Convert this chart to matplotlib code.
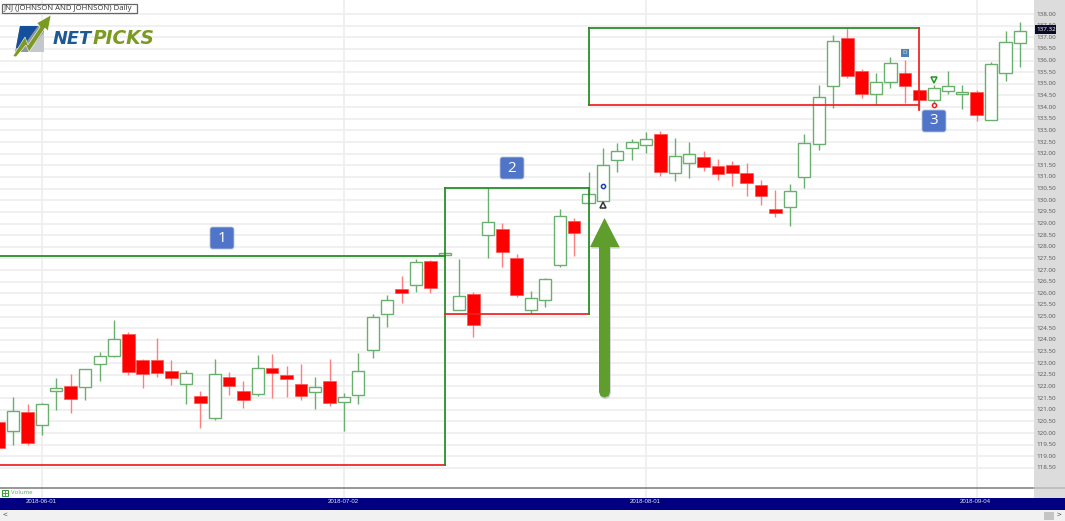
import numpy as np
import matplotlib
matplotlib.use("Agg")
import matplotlib.pyplot as plt
from matplotlib.patches import Rectangle, Polygon, FancyBboxPatch

plt.rcParams['font.family'] = ['Open Sans', 'DejaVu Sans']

W, H = 1065, 521

# candle data, first candle is cut off by the left edge
opens = [120.49, 120.10, 120.92, 120.35, 121.82, 122.03, 121.96, 122.97, 123.31, 124.24, 123.14,
         123.14, 122.68, 122.09, 121.58, 120.63, 122.39, 121.79, 121.66, 122.79, 122.48, 122.12,
         121.76, 122.22, 121.32, 121.63, 123.57, 125.11, 126.20, 126.35, 127.38, 127.66, 125.27,
         125.99, 128.51, 128.78, 127.51, 125.27, 125.70, 127.21, 129.12, 129.87, 129.95, 131.74,
         132.26, 132.36, 132.86, 131.16, 131.61, 131.86, 131.46, 131.50, 131.16, 130.67, 129.64,
         129.70, 130.99, 132.42, 134.89, 136.96, 135.54, 134.56, 135.08, 135.45, 134.75, 134.31,
         134.68, 134.55, 134.65, 133.45, 135.45, 136.74]
closes = [119.37, 120.93, 119.58, 121.23, 121.93, 121.45, 122.76, 123.30, 124.05, 122.62, 122.52,
          122.59, 122.38, 122.59, 121.28, 122.55, 122.01, 121.42, 122.81, 122.57, 122.32, 121.58,
          121.99, 121.30, 121.56, 122.68, 124.98, 125.71, 126.03, 127.35, 126.22, 127.72, 125.90,
          124.65, 129.08, 127.78, 125.92, 125.81, 126.60, 129.34, 128.58, 130.25, 131.50, 132.13,
          132.50, 132.62, 131.21, 131.91, 132.00, 131.43, 131.13, 131.16, 130.73, 130.18, 129.46,
          130.41, 132.45, 134.42, 136.85, 135.32, 134.56, 135.07, 135.91, 134.89, 134.31, 134.83,
          134.92, 134.65, 133.67, 135.84, 136.81, 137.28]
highs = [120.49, 121.56, 121.25, 121.28, 122.35, 122.52, 122.76, 123.47, 124.84, 124.33, 123.17,
         124.07, 123.14, 122.71, 121.81, 123.17, 122.63, 122.24, 123.35, 123.41, 122.88, 122.97,
         122.39, 123.17, 121.71, 123.44, 125.10, 125.92, 126.75, 127.49, 127.43, 127.72, 127.49,
         126.07, 130.51, 129.01, 127.68, 126.11, 126.65, 129.61, 129.22, 131.20, 132.24, 132.46,
         132.63, 132.93, 132.96, 132.67, 132.50, 132.13, 131.78, 131.70, 131.59, 130.87, 130.44,
         130.70, 132.86, 134.96, 137.10, 137.39, 135.64, 135.45, 136.14, 136.02, 134.75, 134.95,
         135.56, 134.96, 134.73, 135.93, 137.28, 137.66]
lows = [119.37, 119.49, 119.49, 119.92, 120.99, 120.87, 121.43, 122.24, 123.28, 122.51, 121.92,
        122.42, 122.05, 121.23, 120.23, 120.56, 121.62, 121.09, 121.60, 121.49, 121.56, 121.42,
        121.05, 121.17, 120.09, 121.23, 123.21, 124.57, 125.57, 126.07, 126.03, 127.66, 125.27,
        124.11, 127.53, 127.12, 125.84, 125.11, 125.40, 127.15, 127.60, 129.87, 129.92, 131.20,
        131.73, 132.02, 131.04, 130.84, 130.97, 131.26, 130.86, 130.62, 130.19, 129.80, 129.29,
        128.89, 130.53, 132.16, 133.98, 135.26, 134.38, 134.09, 134.81, 134.16, 133.88, 134.09,
        134.56, 133.92, 133.42, 133.45, 135.13, 135.71]
first_idx = -1

price_ticks = np.arange(118.5, 138.01, 0.5)
date_idx = [2, 23, 44, 67]
date_labels = ['2018-06-01', '2018-07-02', '2018-08-01', '2018-09-04']
last_price = 137.32

# boxes: left index, right index, top price, bottom price
box1 = (-1, 30, 127.60, 118.63)
box2 = (30, 40, 130.53, 125.11)
box3 = (40, 63, 137.40, 134.09)

GREEN = '#69b06f'
LINE_GREEN = '#1f8a1f'
LINE_RED = '#f02020'
BOX_LW = 1.25
GRID = '#eeeeee'

fig = plt.figure(figsize=(W / 100, H / 100), dpi=100, facecolor='white')

# price panel
ax = fig.add_axes([0, (H - 488) / H, 1034 / W, 488 / H])
ax.set_xlim(-0.925, 70.98)
ax.set_ylim(117.64, 138.60)
ax.set_axis_off()

for p in price_ticks:
    ax.axhline(p, color=GRID, lw=1.2, zorder=1)
for d in date_idx:
    ax.axvline(d, color=GRID, lw=1.2, zorder=1)

for k in range(len(opens)):
    i = first_idx + k
    o, c, h, l = opens[k], closes[k], highs[k], lows[k]
    top, bot = max(o, c), min(o, c)
    if c >= o:
        ax.plot([i, i], [top, h], color=GREEN, lw=1.0, zorder=3, solid_capstyle='butt')
        ax.plot([i, i], [l, bot], color=GREEN, lw=1.0, zorder=3, solid_capstyle='butt')
        ax.add_patch(Rectangle((i - 0.42, bot), 0.84, top - bot, fc='white', ec=GREEN, lw=1.0, zorder=4))
    else:
        ax.plot([i, i], [l, h], color='#ff7f7f', lw=1.0, zorder=3, solid_capstyle='butt')
        ax.add_patch(Rectangle((i - 0.44, bot), 0.88, top - bot, fc='#ff0000', ec='#ff5050', lw=0.5, zorder=4))

# the three trade boxes
ax.plot([box1[0] - 1, box1[1]], [box1[2], box1[2]], color=LINE_GREEN, lw=BOX_LW, zorder=5)
ax.plot([box1[0] - 1, box1[1]], [box1[3], box1[3]], color=LINE_RED, lw=BOX_LW, zorder=5)
ax.plot([box1[1], box1[1]], [box1[3], box2[2]], color=LINE_GREEN, lw=BOX_LW, zorder=5)
ax.plot([box2[0], box2[1]], [box2[2], box2[2]], color=LINE_GREEN, lw=BOX_LW, zorder=5)
ax.plot([box2[0], box2[1]], [box2[3], box2[3]], color=LINE_RED, lw=BOX_LW, zorder=5)
ax.plot([box2[1], box2[1]], [box2[3], box2[2]], color=LINE_GREEN, lw=BOX_LW, zorder=5)
ax.plot([box3[0], box3[1]], [box3[2], box3[2]], color=LINE_GREEN, lw=BOX_LW, zorder=5)
ax.plot([box3[0], box3[1]], [box3[3], box3[3]], color=LINE_RED, lw=BOX_LW, zorder=5)
ax.plot([box3[0], box3[0]], [box3[3], box3[2]], color=LINE_GREEN, lw=BOX_LW, zorder=5)
ax.plot([box3[1], box3[1]], [133.88, box3[2]], color=LINE_RED, lw=BOX_LW, zorder=5)

# signal markers
ax.plot(41, 130.60, 'o', ms=3.0, mfc='white', mec='#1f3fb0', mew=1.1, zorder=6)
ax.plot(41, 129.80, '^', ms=4.0, mfc='white', mec='#333333', mew=1.1, zorder=6)
ax.plot(64, 135.15, 'v', ms=4.6, mfc='white', mec='#1f9a1f', mew=1.1, zorder=6)
ax.plot(64, 134.09, 'o', ms=3.0, mfc='white', mec='#f02020', mew=1.1, zorder=6)

# everything around the chart, in screen pixels
ov = fig.add_axes([0, 0, 1, 1], facecolor='none')
ov.set_xlim(0, W)
ov.set_ylim(H, 0)
ov.set_axis_off()

ov.add_patch(Rectangle((1034, 0), W - 1034, 498, fc='#dcdcdc', ec='none', zorder=1))
ov.plot([0, 1034], [488, 488], color='#7a7a7a', lw=1.1, zorder=2)
ov.plot([1034, W], [488, 488], color='#b8b8b8', lw=1.1, zorder=2)
ov.add_patch(Rectangle((0, 498), W, 12, fc='#000080', ec='none', zorder=2))
ov.add_patch(Rectangle((0, 510), W, 11, fc='#f1f1f1', ec='none', zorder=2))
ov.add_patch(Rectangle((1044, 512), 10, 8, fc='#c4c4c4', ec='none', zorder=3))
ov.text(5, 515.5, '<', fontsize=6, color='#333333', ha='center', va='center', zorder=3)
ov.text(1059, 515.5, '>', fontsize=6, color='#333333', ha='center', va='center', zorder=3)

# vertical grid runs on through the volume row
for d in date_idx:
    px = 13.3 + 14.38 * d
    ov.plot([px, px], [489, 497], color=GRID, lw=1.2, zorder=1)

for d, lab in zip(date_idx, date_labels):
    px = 13.3 + 14.38 * d
    ov.text(px - 1, 501.7, lab, fontsize=4.4, color='#e4e4ee', family='Liberation Sans',
            ha='center', va='center', zorder=4)

for p in price_ticks:
    py = 14 + (138 - p) * 23.28
    ov.text(1036, py, f'{p:.2f}', fontsize=4.5, color='#555555', ha='left', va='center', zorder=3)
py = 14 + (138 - last_price) * 23.28
ov.add_patch(Rectangle((1035, py - 4.5), 21, 9, fc='#0b0b2a', ec='none', zorder=4))
ov.text(1036, py, f'{last_price:.2f}', fontsize=4.5, color='white', ha='left', va='center', zorder=5)

# volume row
ov.add_patch(Rectangle((1.5, 489.5), 6, 6.5, fc='white', ec='#2f9a2f', lw=0.7, zorder=4))
ov.plot([4.5, 4.5], [490.5, 495], color='#2f9a2f', lw=0.6, zorder=5)
ov.plot([2.5, 6.5], [492.8, 492.8], color='#2f9a2f', lw=0.6, zorder=5)
ov.text(11, 493, 'Volume', fontsize=4.3, color='#5aa85a', ha='left', va='center', zorder=4)

# title tag
ov.add_patch(Rectangle((1.7, 3.5), 135, 9.2, fc='white', ec='#666666', lw=0.9, zorder=6))
ov.text(4, 8, 'JNJ (JOHNSON AND JOHNSON) Daily', fontsize=5.6, color='#333333', ha='left', va='center', zorder=7)

# logo
ov.add_patch(Polygon([(20, 26), (44, 26), (44, 52), (15, 52)], fc='#8d98a3', ec='none', zorder=6))
ov.add_patch(Polygon([(20, 26), (38, 26), (22, 48), (16, 48)], fc='#14509c', ec='none', zorder=6))
ov.add_patch(Polygon([(44, 32), (44, 52), (28, 52)], fc='#c4c8cc', ec='none', zorder=6))
ov.add_patch(Polygon([(13, 56), (25, 37), (28, 45), (40, 27), (37, 23), (51, 15), (48, 31), (45, 28),
                      (29, 52), (26, 45), (16, 57)], fc='#7b9a22', ec='white', lw=0.4, zorder=7))
ov.text(53, 38.5, 'NET', fontsize=12.8, fontweight='bold', style='italic', color='#1d5a94',
        family='DejaVu Sans', ha='left', va='center', zorder=7)
ov.text(93, 38.5, 'PICKS', fontsize=13.4, fontweight='bold', style='italic', color='#7b9a22',
        family='DejaVu Sans', ha='left', va='center', zorder=7)

# numbered badges
for bx, by, label in [(210, 227, '1'), (500, 157, '2'), (922, 110, '3')]:
    ov.add_patch(FancyBboxPatch((bx + 1.5, by + 1.5), 21, 19, boxstyle='round,pad=1.5,rounding_size=2.5',
                                fc='#4f74c8', ec='#b8c4dc', lw=0.6, zorder=8))
    ov.text(bx + 12, by + 11, label, fontsize=11, color='white', ha='center', va='center', zorder=9)

# little D flag
ov.add_patch(Rectangle((901, 49), 8, 7.5, fc='#4f80b0', ec='none', zorder=8))
ov.text(905, 52.8, 'D', fontsize=4.5, color='#dde6f0', ha='center', va='center', zorder=9)

# big arrow
arrow_pts = [(604.5, 218), (619.5, 247), (610, 247), (610, 392), (608.5, 396), (604.5, 397.5), (600.5, 396),
             (599, 392), (599, 247), (590, 247)]
shadow = [(x + 0.8, y + 1.6) for x, y in arrow_pts]
ov.add_patch(Polygon(shadow, fc='#b9b9c4', ec='none', alpha=0.7, zorder=8))
ov.add_patch(Polygon(arrow_pts, fc='#5f9e2c', ec='none', zorder=9))

fig.savefig('out.png', dpi=100, facecolor='white')
